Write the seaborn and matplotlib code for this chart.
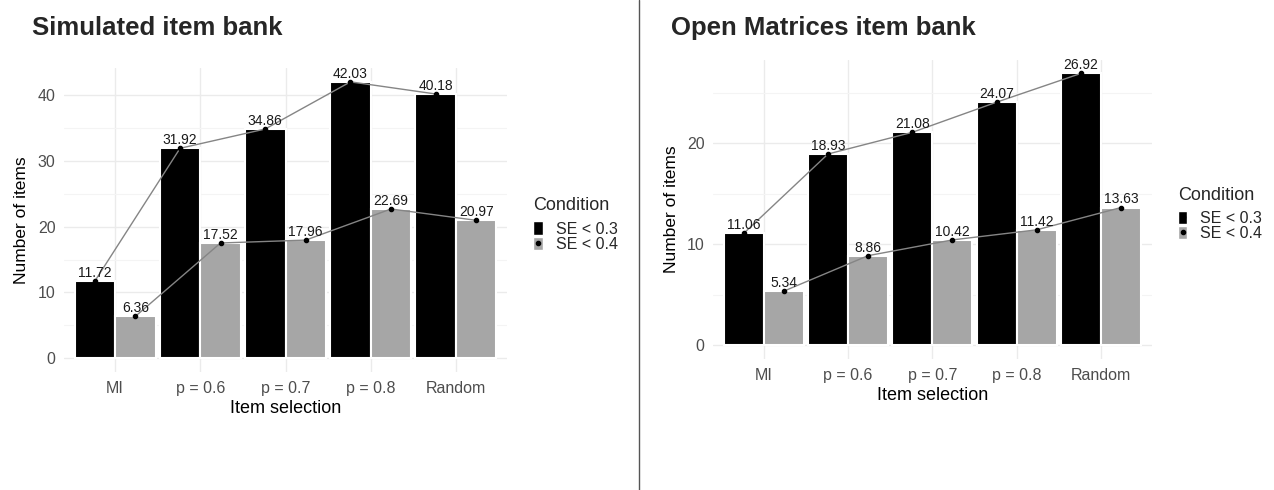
import numpy as np
import pandas as pd
import matplotlib
matplotlib.use("Agg")
import matplotlib.pyplot as plt
import seaborn as sns
from matplotlib.lines import Line2D
from matplotlib.patches import Patch

# ── Data ──────────────────────────────────────────────────────
selection = ["MI", "p = 0.6", "p = 0.7", "p = 0.8", "Random"]
conditions = ["SE < 0.3", "SE < 0.4"]

sim_se03 = [11.72, 31.92, 34.86, 42.03, 40.18]
sim_se04 = [6.36, 17.52, 17.96, 22.69, 20.97]

om_se03 = [11.06, 18.93, 21.08, 24.07, 26.92]
om_se04 = [5.34, 8.86, 10.42, 11.42, 13.63]

sim_yticks = [0, 10, 20, 30, 40]
om_yticks = [0, 10, 20]

palette = {"SE < 0.3": "#000000", "SE < 0.4": "#a6a6a6"}
BAR_W = 0.95

sns.set_theme(style="white")
plt.rcParams["font.family"] = ["Liberation Sans", "DejaVu Sans"]


def make_df(a, b):
    return pd.DataFrame({
        "sel": selection * 2,
        "cond": [conditions[0]] * len(a) + [conditions[1]] * len(b),
        "n": list(a) + list(b),
    })


def draw_panel(ax, a, b, yticks, title, title_x, fig):
    df = make_df(a, b)
    sns.barplot(data=df, x="sel", y="n", hue="cond", hue_order=conditions,
                palette=palette, width=BAR_W, edgecolor="white", linewidth=1.5,
                saturation=1, errorbar=None, legend=False, ax=ax, zorder=2)

    # connecting lines + value labels on top of each bar
    x = np.arange(len(selection))
    off = BAR_W / 4
    for vals, dx in ((a, -off), (b, off)):
        xs = x + dx
        ax.plot(xs, vals, color="#858585", lw=1.0, zorder=3)
        ax.scatter(xs, vals, s=9, color="black", zorder=4)
        for xi, v in zip(xs, vals):
            ax.text(xi, v + max(a) * 0.004, f"{v:.2f}", ha="center", va="bottom",
                    fontsize=10, color="#1a1a1a", zorder=5)

    top = max(a) * 1.05
    ax.set_ylim(-max(a) * 0.05, top)
    ax.set_xlim(-0.6, len(selection) - 0.4)
    ax.set_yticks(yticks)
    step = yticks[1] - yticks[0]
    minor = [t + step / 2 for t in yticks if t + step / 2 < top]
    ax.set_yticks(minor, minor=True)
    ax.grid(which="major", color="#ebebeb", lw=1.0, zorder=0)
    ax.grid(which="minor", axis="y", color="#f4f4f4", lw=0.8, zorder=0)
    ax.set_axisbelow(True)
    for s in ax.spines.values():
        s.set_visible(False)
    ax.tick_params(axis="both", which="both", length=0, labelsize=11.5,
                   labelcolor="#4d4d4d", pad=6.5)
    ax.tick_params(axis="y", pad=6)
    ax.set_xlabel("Item selection", fontsize=13, color="black", labelpad=3)
    ax.set_ylabel("Number of items", fontsize=12.5, color="black", labelpad=6)
    fig.text(title_x, 0.942, title, fontsize=18.5, fontweight="bold", ha="left", va="center")

    handles = [
        (Patch(facecolor=palette[conditions[0]]),
         Line2D([], [], marker="o", ls="", color="black", markersize=3)),
        (Patch(facecolor=palette[conditions[1]]),
         Line2D([], [], marker="o", ls="", color="black", markersize=3)),
    ]
    leg = ax.legend(handles, conditions, title="Condition", loc="center left",
                    bbox_to_anchor=(1.045, 0.485), frameon=False, fontsize=11.5,
                    title_fontsize=13, handlelength=0.6, handleheight=0.9,
                    handletextpad=0.8, labelspacing=0.0, borderaxespad=0)
    leg._legend_box.align = "left"
    leg._legend_box.sep = 5


fig = plt.figure(figsize=(12.74, 4.9), dpi=100)
ax1 = fig.add_axes([0.0502, 0.2408, 0.3478, 0.6204])
ax2 = fig.add_axes([0.5597, 0.268, 0.3443, 0.61])

draw_panel(ax1, sim_se03, sim_se04, sim_yticks, "Simulated item bank", 0.025, fig)
draw_panel(ax2, om_se03, om_se04, om_yticks, "Open Matrices item bank", 0.527, fig)

fig.add_artist(Line2D([639 / 1274, 639 / 1274], [0, 1], color="#555555", lw=1.0,
                      transform=fig.transFigure))

plt.savefig("out.png", dpi=100, facecolor="white")
plt.close()
